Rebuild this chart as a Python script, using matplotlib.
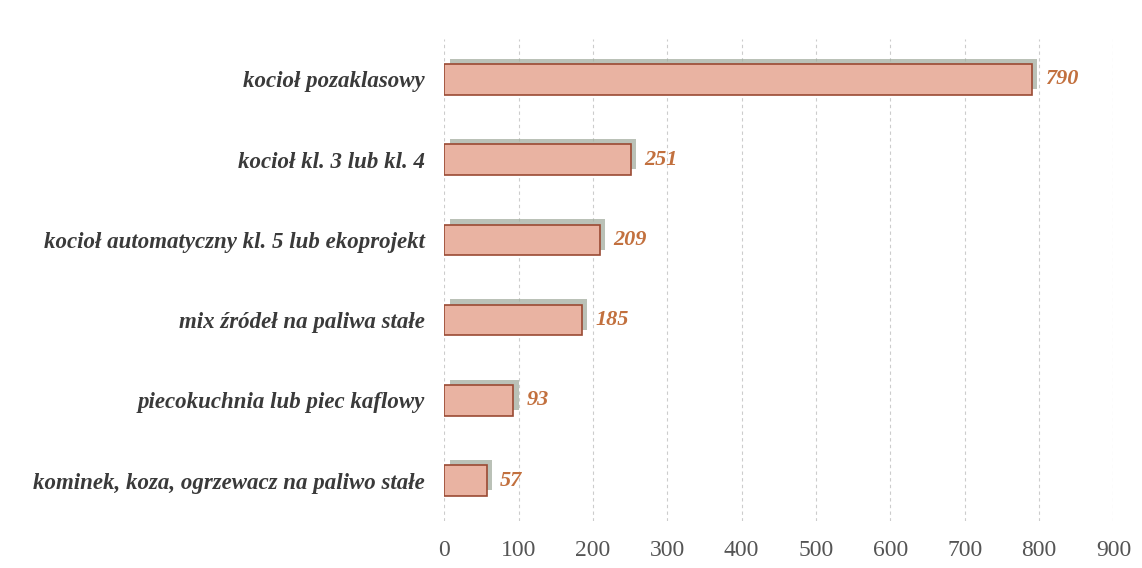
import matplotlib.pyplot as plt
import matplotlib.patheffects as pe

# Data
categories = [
    "kocioł pozaklasowy",
    "kocioł kl. 3 lub kl. 4",
    "kocioł automatyczny kl. 5 lub ekoprojekt",
    "mix źródeł na paliwa stałe",
    "piecokuchnia lub piec kaflowy",
    "kominek, koza, ogrzewacz na paliwo stałe",
]
values = [790, 251, 209, 185, 93, 57]
x_ticks = [0, 100, 200, 300, 400, 500, 600, 700, 800, 900]

plt.rcParams["font.family"] = ["Liberation Serif", "DejaVu Serif"]

fig = plt.figure(figsize=(11.42, 5.68), dpi=100)
ax = fig.add_axes([0.389, 0.083, 0.586, 0.848])

pos = list(range(len(categories)))
bars = ax.barh(pos, values, height=0.38, color="#e9b3a2", edgecolor="#9a4a33",
               linewidth=1.2, zorder=3)
for b in bars:
    b.set_path_effects([
        pe.SimplePatchShadow(offset=(4, 4), shadow_rgbFace="#a3ad9f", alpha=0.75),
        pe.Normal(),
    ])

for p, v in zip(pos, values):
    ax.text(v + 18, p, str(v), va="center", ha="left", fontsize=16,
            fontweight="bold", style="italic", color="#c2703e", zorder=4)

ax.set_xlim(0, 900)
ax.set_ylim(len(categories) - 0.5, -0.5)
ax.set_xticks(x_ticks)
ax.set_xticklabels([str(t) for t in x_ticks], fontsize=17, color="#555555")
ax.set_yticks(pos)
ax.set_yticklabels(categories, fontsize=16.5, fontweight="bold", style="italic",
                   color="#3a3a3a")
ax.tick_params(axis="both", length=0)
ax.tick_params(axis="x", pad=14)
ax.tick_params(axis="y", pad=14)

ax.grid(axis="x", color="#cccccc", linestyle=(0, (3, 3)), linewidth=0.8, zorder=0)
for s in ax.spines.values():
    s.set_visible(False)

plt.savefig("out.png", dpi=100)
